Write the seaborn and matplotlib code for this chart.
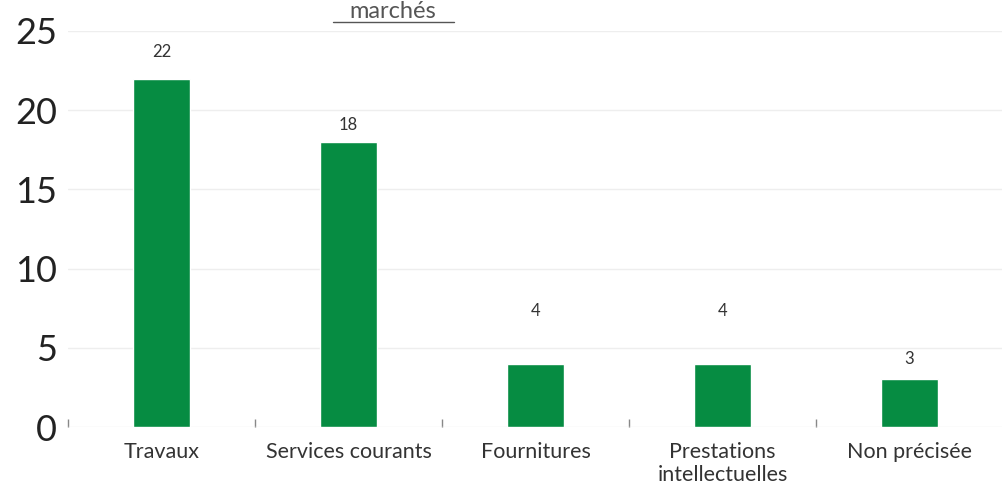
import matplotlib
matplotlib.use("Agg")
from matplotlib import pyplot as plt
from matplotlib.lines import Line2D
import numpy as np
import pandas as pd
import seaborn as sns

categories = ["Travaux", "Services courants", "Fournitures",
              "Prestations\nintellectuelles", "Non précisée"]
counts = [22, 18, 4, 4, 3]
# label offsets above the bar tops, in points (the original places them unevenly)
label_offsets = [19, 12, 38, 38, 15]

df = pd.DataFrame({"type": categories, "n": counts})

sns.set_theme(style="white")
plt.rcParams['font.family'] = ['Lato', 'DejaVu Sans']

fig = plt.figure(figsize=(10.03, 4.9), dpi=100)
ax = fig.add_axes([68 / 1003, 1 - 427 / 490, 1 - 68 / 1003, (427 - 31) / 490])

sns.barplot(data=df, x="type", y="n", color="#068c42", width=0.3,
            saturation=1, ax=ax, zorder=3)

for i, (v, off) in enumerate(zip(counts, label_offsets)):
    ax.annotate(str(v), (i, v), textcoords="offset points", xytext=(0, off),
                ha="center", va="center", fontsize=12, color="#333333")

ax.set_ylim(0, 25)
ax.set_xlim(-0.5, len(categories) - 0.5)
ax.set_yticks([0, 5, 10, 15, 20, 25])
ax.set_xlabel("")
ax.set_ylabel("")
ax.grid(axis="y", color="#eeeeee", linewidth=1, zorder=0)
for s in ax.spines.values():
    s.set_visible(False)

ax.tick_params(axis="y", length=0, pad=8, labelsize=26, labelcolor="#222222")
ax.tick_params(axis="x", which="major", length=0, pad=11, labelsize=15.5, labelcolor="#333333")
ax.set_xticks(np.arange(-0.5, len(categories)), minor=True)
ax.tick_params(axis="x", which="minor", bottom=True, direction="in", length=6,
               width=1, color="#888888")

# title (only its last line shows at the top of the original)
fig.text(393 / 1003, 1 - 18 / 490, "marchés", ha="center", va="baseline",
         fontsize=17, color="#555555")
fig.add_artist(Line2D([333 / 1003, 454 / 1003], [1 - 22 / 490, 1 - 22 / 490],
                      color="#555555", linewidth=1))

fig.savefig("out.png", dpi=100)
